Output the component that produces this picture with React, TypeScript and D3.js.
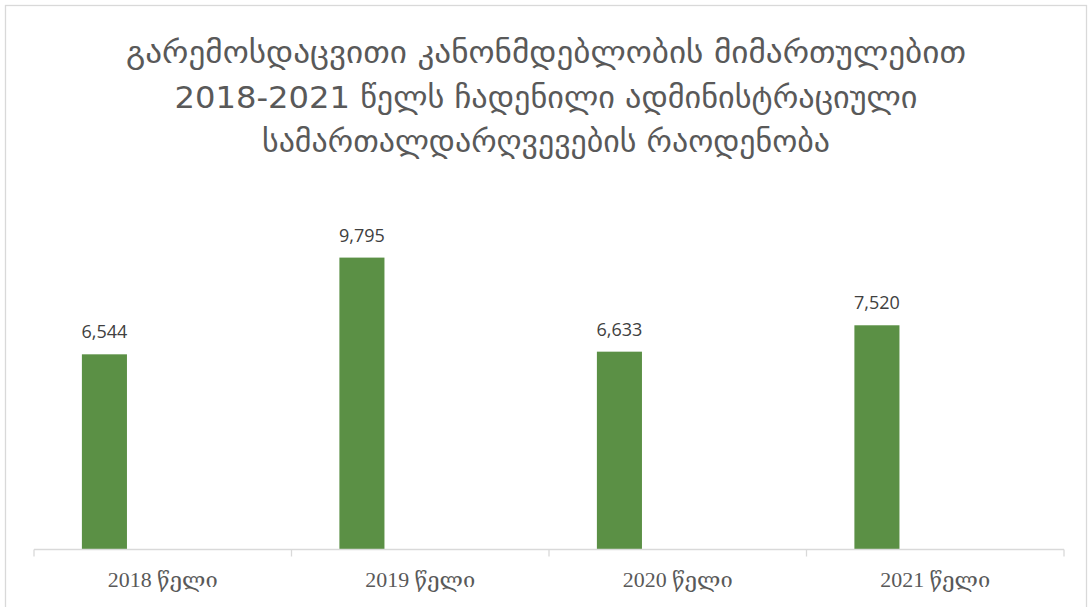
import React from "react";
import * as d3 from "d3";

const categories = ["2018 წელი", "2019 წელი", "2020 წელი", "2021 წელი"];
const values = [6544, 9795, 6633, 7520];
const titleLines = [
  "გარემოსდაცვითი კანონმდებლობის მიმართულებით",
  "2018-2021 წელს ჩადენილი ადმინისტრაციული",
  "სამართალდარღვევების რაოდენობა",
];
const titleWidths = [840, 743, 568];

export default function App() {
  const W = 1092;
  const H = 607;
  const x = d3.scaleBand<string>().domain(categories).range([34, 1064]).padding(0);
  const y = d3.scaleLinear().domain([0, 12000]).range([549, 192]);
  const fmt = d3.format(",");
  const barOff = x.bandwidth() * 0.186;
  const barW = x.bandwidth() * 0.175;
  const bounds = [34, ...categories.map((c) => x(c)! + x.bandwidth())];
  return (
    <svg width={W} height={H} style={{ position: "absolute", left: 0, top: 0, background: "#fff" }}>
      <rect x={5.5} y={5.5} width={1081} height={H + 10} fill="#fff" stroke="#d9d9d9" strokeWidth={1.3} />
      {titleLines.map((t, i) => (
        <text
          key={i}
          x={546}
          y={63 + i * 44.5}
          textAnchor="middle"
          fontFamily="'DejaVu Sans Condensed', 'DejaVu Sans'"
          fontSize={31}
          fill="#595959"
          textLength={titleWidths[i]}
          lengthAdjust="spacingAndGlyphs"
        >
          {t}
        </text>
      ))}
      {categories.map((c, i) => (
        <rect key={c} x={x(c)! + barOff} y={y(values[i])} width={barW} height={y(0) - y(values[i])} fill="#5B9045" />
      ))}
      {categories.map((c, i) => (
        <text
          key={c}
          x={x(c)! + barOff + barW / 2}
          y={y(values[i]) - 16}
          textAnchor="middle"
          fontFamily="'Open Sans', 'Liberation Sans'"
          fontSize={18}
          fill="#404040"
        >
          {fmt(values[i])}
        </text>
      ))}
      <line x1={34} x2={1064} y1={549.5} y2={549.5} stroke="#d9d9d9" strokeWidth={1.3} />
      {bounds.map((b, i) => (
        <line key={i} x1={b} x2={b} y1={549.5} y2={556.5} stroke="#d9d9d9" strokeWidth={1.3} />
      ))}
      {categories.map((c) => (
        <text
          key={c}
          x={x(c)! + x.bandwidth() / 2}
          y={587}
          textAnchor="middle"
          fontFamily="'Liberation Serif', 'DejaVu Serif'"
          fontSize={20}
          fill="#595959"
          textLength={110}
          lengthAdjust="spacingAndGlyphs"
        >
          {c}
        </text>
      ))}
    </svg>
  );
}
